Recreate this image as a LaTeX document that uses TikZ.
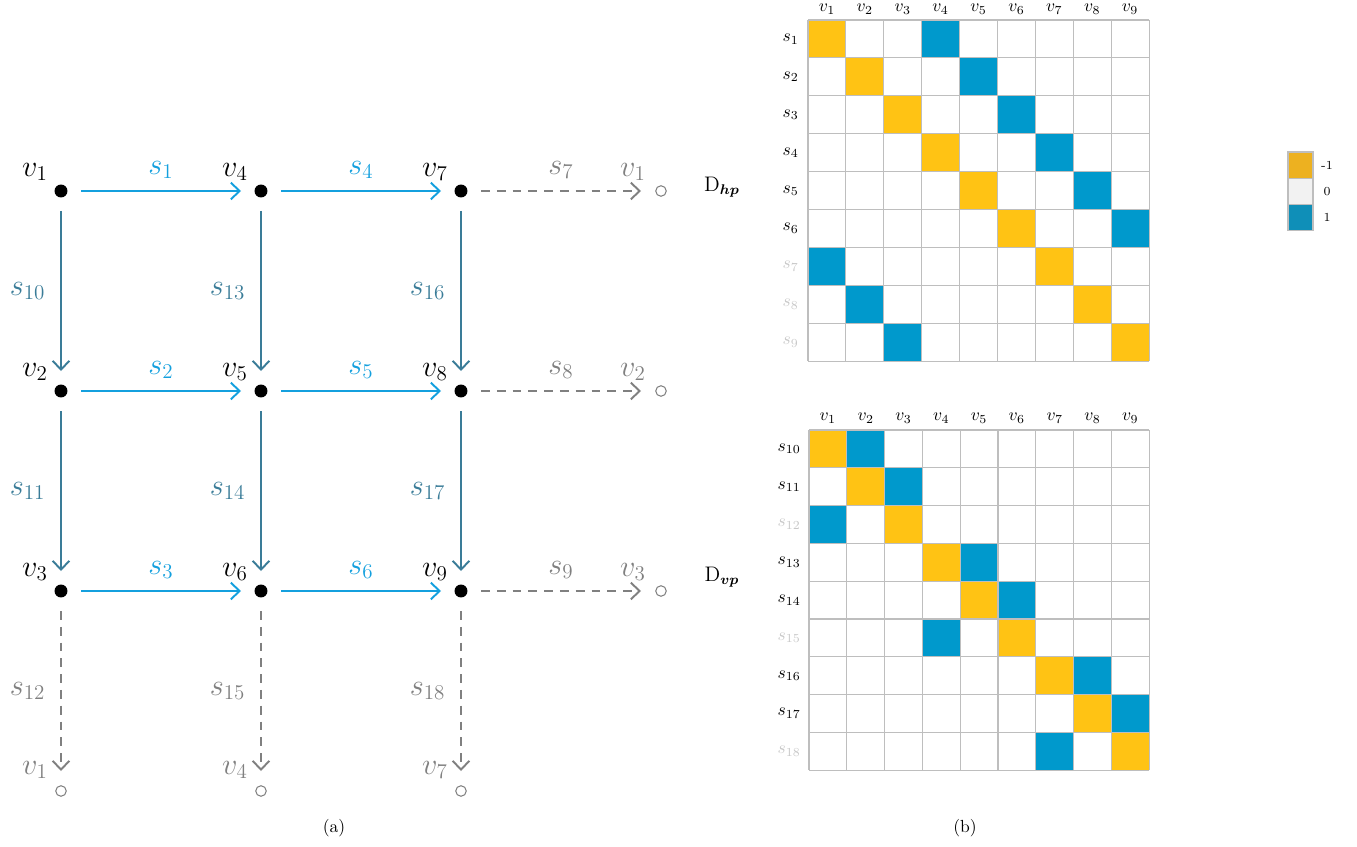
\documentclass[tikz,border=0pt]{standalone}
\usepackage{amsmath,amssymb}
\usepackage{tikz}
\usetikzlibrary{arrows.meta,calc}

\definecolor{hblue}{RGB}{20,160,222}
\definecolor{vteal}{RGB}{58,124,152}
\definecolor{ghost}{RGB}{128,128,128}
\definecolor{cellyel}{RGB}{255,195,20}
\definecolor{cellblu}{RGB}{0,153,204}
\definecolor{gridgray}{RGB}{190,190,190}
\definecolor{faint}{RGB}{200,200,200}
\definecolor{legyel}{RGB}{237,177,32}
\definecolor{legmid}{RGB}{242,242,242}
\definecolor{legblu}{RGB}{15,143,184}

\tikzset{
  dot/.style={circle,fill=black,inner sep=0pt,minimum size=7.4pt,outer sep=7.7pt},
  ghostdot/.style={circle,draw=ghost,line width=0.6pt,inner sep=0pt,minimum size=6pt,outer sep=8.4pt},
  barb/.style={-{Straight Barb[length=5pt,width=9.5pt,line width=1.1pt]}},
  hedge/.style={barb,hblue,line width=1.15pt},
  vedge/.style={barb,vteal,line width=1.15pt},
  gedge/.style={barb,ghost,line width=1.15pt,dash pattern=on 5pt off 4pt},
  vlab/.style={font=\LARGE},
  glab/.style={font=\LARGE,text=ghost},
  hlab/.style={font=\LARGE,midway,yshift=12pt},
  slab/.style={font=\LARGE,midway,xshift=-19pt},
  gridline/.style={gridgray,line width=0.6pt},
  collab/.style={font=\normalsize},
  rowlab/.style={font=\normalsize,anchor=east},
  leglab/.style={font=\scriptsize},
}

\begin{document}
\begin{tikzpicture}[x=0.57pt,y=-0.57pt]
\useasboundingbox (0,0) rectangle (1357,847);

% (a) grid graph
\foreach \c in {0,1,2}
  \foreach \r in {0,1,2} {
    \pgfmathtruncatemacro\i{3*\c+\r+1}
    \node[dot] (v\i) at ({61+200*\c},{191+200*\r}) {};
    \node[vlab] (lv\i) at ($(v\i)+(-26,-19)$) {$v_{\i}$};
  }

% periodic copies
\foreach \r in {1,2,3} {
  \node[ghostdot] (gr\r) at (661,{191+200*(\r-1)}) {};
  \node[glab] (lgr\r) at ($(gr\r)+(-28,-19)$) {$v_{\r}$};
}
\foreach \c/\k in {1/1,2/4,3/7} {
  \node[ghostdot] (gb\c) at ({61+200*(\c-1)},791) {};
  \node[glab] (lgb\c) at ($(gb\c)+(-26,-21)$) {$v_{\k}$};
}

% horizontal edges
\foreach \c in {0,1}
  \foreach \r in {0,1,2} {
    \pgfmathtruncatemacro\a{3*\c+\r+1}
    \pgfmathtruncatemacro\b{\a+3}
    \draw[hedge] (v\a) -- node[hlab] {$s_{\a}$} (v\b);
  }
\foreach \r in {1,2,3} {
  \pgfmathtruncatemacro\a{6+\r}
  \draw[gedge] (v\a) -- node[hlab] {$s_{\a}$} (gr\r);
}

% vertical edges
\foreach \c in {0,1,2} {
  \pgfmathtruncatemacro\a{3*\c+1}
  \pgfmathtruncatemacro\b{3*\c+2}
  \pgfmathtruncatemacro\d{3*\c+3}
  \pgfmathtruncatemacro\e{10+3*\c}
  \pgfmathtruncatemacro\f{11+3*\c}
  \pgfmathtruncatemacro\g{12+3*\c}
  \pgfmathtruncatemacro\n{\c+1}
  \draw[vedge] (v\a) -- node[slab] {$s_{\e}$} (v\b);
  \draw[vedge] (v\b) -- node[slab] {$s_{\f}$} (v\d);
  \draw[gedge] (v\d) -- node[slab] {$s_{\g}$} (gb\n);
}

\node[font=\large] (dhp) at (722,187) {$\mathrm{D}_{\boldsymbol{hp}}$};
\node[font=\large] (dvp) at (722,577) {$\mathrm{D}_{\boldsymbol{vp}}$};

% (b) incidence matrices
\begin{scope}[shift={(808,20)}]
  \foreach \r/\m/\p in {1/1/4,2/2/5,3/3/6,4/4/7,5/5/8,6/6/9,7/7/1,8/8/2,9/9/3} {
    \fill[cellyel] ({37.9*(\m-1)},{37.9*(\r-1)}) rectangle ++(37.9,37.9);
    \fill[cellblu] ({37.9*(\p-1)},{37.9*(\r-1)}) rectangle ++(37.9,37.9);
  }
  \foreach \i in {0,...,9} {
    \draw[gridline] ({37.9*\i},0) -- ({37.9*\i},341.1);
    \draw[gridline] (0,{37.9*\i}) -- (341.1,{37.9*\i});
  }
  \foreach \i/\col in {1/black,2/black,3/black,4/black,5/black,6/black,7/faint,8/faint,9/faint} {
    \node[collab] (hc\i) at ({37.9*\i-18.95},-11) {$v_{\i}$};
    \node[rowlab,text=\col] (hr\i) at (-3,{37.9*\i-18.95}) {$s_{\i}$};
  }
\end{scope}

\begin{scope}[shift={(809,430)}]
  \foreach \r/\m/\p in {1/1/2,2/2/3,3/3/1,4/4/5,5/5/6,6/6/4,7/7/8,8/8/9,9/9/7} {
    \fill[cellyel] ({37.8*(\m-1)},{37.8*(\r-1)}) rectangle ++(37.8,37.8);
    \fill[cellblu] ({37.8*(\p-1)},{37.8*(\r-1)}) rectangle ++(37.8,37.8);
  }
  \foreach \i in {0,...,9} {
    \draw[gridline] ({37.8*\i},0) -- ({37.8*\i},340.2);
    \draw[gridline] (0,{37.8*\i}) -- (340.2,{37.8*\i});
  }
  \foreach \i/\col in {1/black,2/black,3/faint,4/black,5/black,6/faint,7/black,8/black,9/faint} {
    \pgfmathtruncatemacro\k{9+\i}
    \node[collab] (vc\i) at ({37.8*\i-18.9},-12) {$v_{\i}$};
    \node[rowlab,text=\col] (vr\i) at (-2,{37.8*\i-18.9}) {$s_{\k}$};
  }
\end{scope}

% legend
\foreach \k/\col/\t in {0/legyel/-1,1/legmid/0,2/legblu/1} {
  \draw[gridline,fill=\col] (1288,{152+26.3*\k}) rectangle ++(25,26.3);
  \node[leglab] (leg\k) at (1327,{165+26.3*\k}) {\t};
}

\node (capa) at (334,828) {(a)};
\node (capb) at (965,828) {(b)};
\end{tikzpicture}
\end{document}
